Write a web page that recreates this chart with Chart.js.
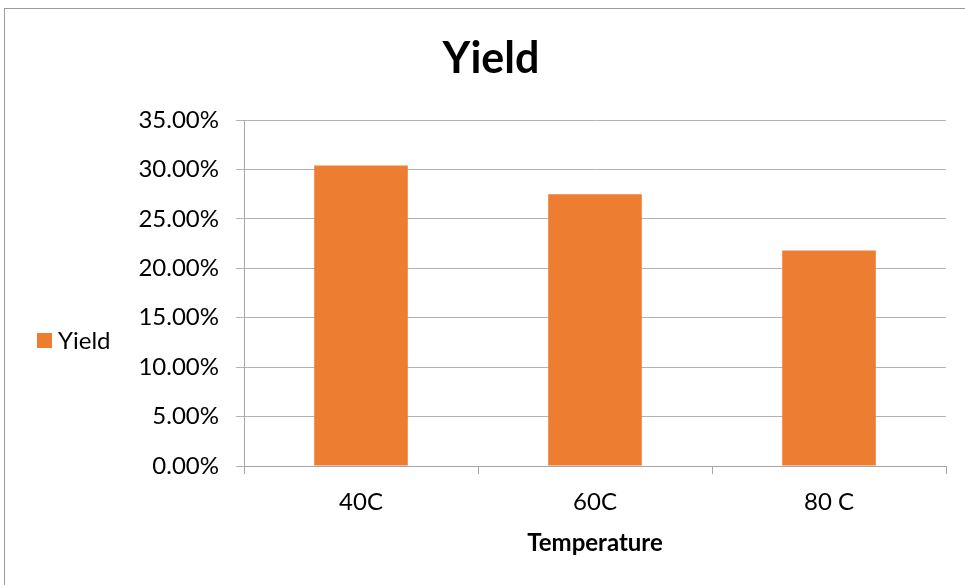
<!DOCTYPE html>
<html>
<head>
<meta charset="utf-8">
<script src="https://cdn.jsdelivr.net/npm/chart.js@4/dist/chart.umd.min.js"></script>
<style>
  html, body { margin: 0; padding: 0; background: #fff; overflow: hidden; }
  #wrap { position: relative; width: 965px; height: 585px; }
  #frame { position: absolute; left: 4px; top: 8px; width: 1000px; height: 1000px;
           border: 1px solid #9a9a9a; box-sizing: border-box; }
  canvas { position: absolute; left: 0; top: 0; }
</style>
</head>
<body>
<div id="wrap">
  <div id="frame"></div>
  <canvas id="c" width="965" height="585"></canvas>
</div>
<script>
const categories = ['40C', '60C', '80 C'];
const yieldValues = [30.4, 27.5, 21.8];
const yTicks = [0, 5, 10, 15, 20, 25, 30, 35];

const FONT = 'Lato, "Liberation Sans", sans-serif';
const ORANGE = '#ED7D31';

// Chart title and left-side legend, drawn on the canvas
const decorations = {
  id: 'decorations',
  afterDraw(chart) {
    const ctx = chart.ctx;
    ctx.save();
    ctx.fillStyle = '#000';
    ctx.font = 'bold 43px ' + FONT;
    ctx.textAlign = 'center';
    ctx.textBaseline = 'middle';
    ctx.fillText('Yield', 491, 59);

    const ds = chart.data.datasets[0];
    ctx.fillStyle = ds.backgroundColor;
    ctx.fillRect(37, 333, 15, 15);
    ctx.fillStyle = '#000';
    ctx.font = '24px ' + FONT;
    ctx.textAlign = 'left';
    ctx.fillText(ds.label, 58, 341);
    ctx.restore();
  }
};

new Chart(document.getElementById('c'), {
  type: 'bar',
  data: {
    labels: categories,
    datasets: [{
      label: 'Yield',
      data: yieldValues,
      backgroundColor: ORANGE,
      barPercentage: 0.4,
      categoryPercentage: 1.0
    }]
  },
  options: {
    responsive: false,
    animation: false,
    layout: { padding: { left: 124, right: 19, top: 120, bottom: 0 } },
    plugins: {
      legend: { display: false },
      title: { display: false },
      tooltip: { enabled: false }
    },
    scales: {
      x: {
        afterFit(scale) { scale.height = 119; },
        grid: { drawOnChartArea: false, drawTicks: true, tickLength: 8, color: '#a6a6a6' },
        border: { color: '#a6a6a6', width: 1 },
        ticks: { color: '#000', font: { family: FONT, size: 24 }, padding: 14 },
        title: {
          display: true, text: 'Temperature', color: '#000',
          font: { family: FONT, size: 24, weight: 'bold' },
          padding: { top: 0, bottom: 27 }
        }
      },
      y: {
        min: 0, max: 35,
        afterFit(scale) { scale.width = 120; },
        afterBuildTicks(scale) { scale.ticks = yTicks.map(v => ({ value: v })); },
        grid: { color: '#b3b3b3', tickLength: 8, drawTicks: true },
        border: { color: '#a6a6a6', width: 1 },
        ticks: {
          color: '#000', font: { family: FONT, size: 24 }, padding: 17,
          callback: v => v.toFixed(2) + '%'
        }
      }
    }
  },
  plugins: [decorations]
});
</script>
</body>
</html>
